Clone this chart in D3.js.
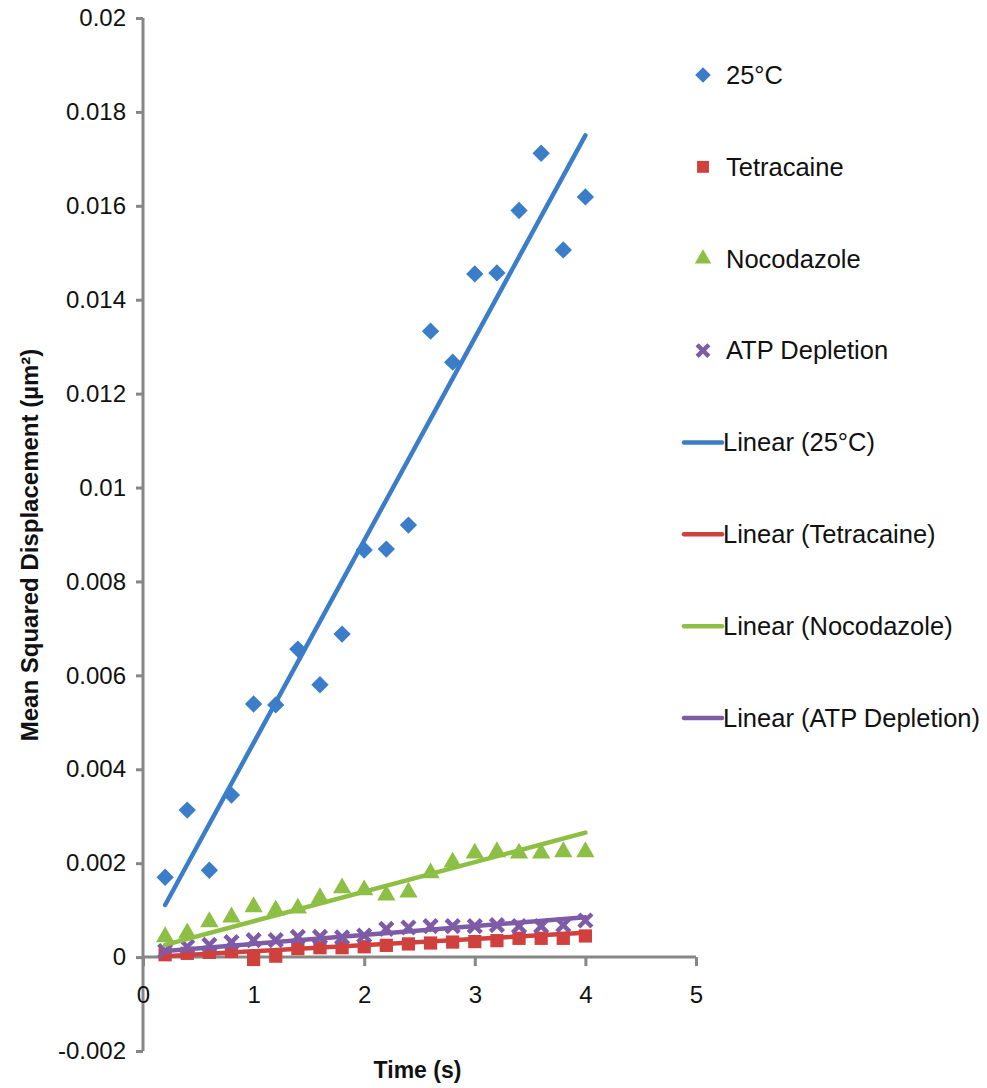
<!DOCTYPE html>
<html><head><meta charset="utf-8">
<script src="https://cdn.jsdelivr.net/npm/d3@7"></script>
<style>body{margin:0;background:#fff}</style>
</head><body><svg id="c" width="987" height="1088"></svg>
<script>
const times = [0.2,0.4,0.6,0.8,1.0,1.2,1.4,1.6,1.8,2.0,2.2,2.4,2.6,2.8,3.0,3.2,3.4,3.6,3.8,4.0];
const temp25 = [0.0017,0.00313,0.00185,0.00345,0.00539,0.00537,0.00656,0.0058,0.00688,0.00867,0.00869,0.0092,0.01333,0.01267,0.01455,0.01457,0.0159,0.01712,0.01506,0.01619];
const tetracaine = [0.00005,0.00008,0.0001,0.00012,-0.00005,0.00002,0.00018,0.0002,0.0002,0.00022,0.00025,0.00028,0.0003,0.00032,0.00033,0.00035,0.0004,0.0004,0.0004,0.00045];
const nocodazole = [0.00043,0.00051,0.00075,0.00085,0.00107,0.001,0.00104,0.00126,0.00147,0.00143,0.00132,0.00138,0.00179,0.00202,0.00221,0.00224,0.00221,0.00221,0.00224,0.00224];
const atpDepletion = [0.00013,0.00022,0.00026,0.00032,0.00036,0.00036,0.00043,0.00043,0.00042,0.00046,0.0006,0.00063,0.00066,0.00066,0.00066,0.00068,0.00066,0.00066,0.00068,0.00078];
// trendline values at t = 0.2 and t = 4.0
const trendStart = [0.00111,0.00002,0.00026,0.00013];
const trendEnd = [0.0175,0.00052,0.00265,0.00085];
const seriesNames = ["25°C","Tetracaine","Nocodazole","ATP Depletion"];
const seriesColors = ["#3b7dc8","#d0403d","#8dbf45","#7e5ba6"];
const seriesShapes = ["diamond","square","triangle","x"];
const xTicks = [0,1,2,3,4,5];
const xTickLabels = ["0","1","2","3","4","5"];
const yTicks = [-0.002,0,0.002,0.004,0.006,0.008,0.01,0.012,0.014,0.016,0.018,0.02];
const yTickLabels = ["-0.002","0","0.002","0.004","0.006","0.008","0.01","0.012","0.014","0.016","0.018","0.02"];
const xTitle = "Time (s)";
const yTitle = "Mean Squared Displacement (µm²)";

const series = [temp25,tetracaine,nocodazole,atpDepletion].map((v,i)=>({
  name: seriesNames[i], values: v, color: seriesColors[i], shape: seriesShapes[i],
  t0: trendStart[i], t1: trendEnd[i]
}));

const svg = d3.select("#c");
const font = "Liberation Sans, Arial, Helvetica, sans-serif";
const x = d3.scaleLinear().domain([0,5]).range([143,696]);
const y = d3.scaleLinear().domain([-0.002,0.02]).range([1051,18]);
const axisColor = "#878787";

// Y axis
const gy = svg.append("g").attr("transform",`translate(${x(0)},0)`)
  .call(d3.axisLeft(y).tickValues(yTicks).tickSize(7).tickPadding(10)
    .tickFormat((d,i)=>yTickLabels[i]));
gy.select(".domain").attr("stroke",axisColor).attr("stroke-width",3).attr("d",`M0,${y(-0.002)}V${y(0.02)}`);
gy.selectAll(".tick line").attr("stroke",axisColor).attr("stroke-width",3);
gy.selectAll(".tick text").attr("font-family",font).attr("font-size",24).attr("fill","#111");

// X axis at y=0
const gx = svg.append("g").attr("transform",`translate(0,${y(0)})`)
  .call(d3.axisBottom(x).tickValues(xTicks).tickSize(9).tickPadding(20)
    .tickFormat((d,i)=>xTickLabels[i]));
gx.select(".domain").attr("stroke",axisColor).attr("stroke-width",3).attr("d",`M${x(0)},0H${x(5)}`);
gx.selectAll(".tick line").attr("stroke",axisColor).attr("stroke-width",3);
gx.selectAll(".tick text").attr("font-family",font).attr("font-size",24).attr("fill","#111");

// Axis titles
svg.append("text").attr("x",(x(0)+x(5))/2 - 2).attr("y",1078).attr("text-anchor","middle")
  .attr("font-family",font).attr("font-size",23).attr("font-weight","bold").attr("fill","#111").text(xTitle);
svg.append("text").attr("transform",`translate(38,545) rotate(-90)`).attr("text-anchor","middle")
  .attr("font-family",font).attr("font-size",24).attr("font-weight","bold").attr("fill","#111").text(yTitle);

function drawMarker(g, shape, color, cx, cy, scale){
  scale = scale||1;
  if(shape==="diamond"){
    g.append("path").attr("d",d3.symbol(d3.symbolSquare, 150*scale*scale)())
      .attr("transform",`translate(${cx},${cy}) rotate(45)`).attr("fill",color);
  } else if(shape==="square"){
    g.append("path").attr("d",d3.symbol(d3.symbolSquare, 175*scale*scale)())
      .attr("transform",`translate(${cx},${cy})`).attr("fill",color);
  } else if(shape==="triangle"){
    g.append("path").attr("d",d3.symbol(d3.symbolTriangle, 145*scale*scale)())
      .attr("transform",`translate(${cx},${cy})`).attr("fill",color);
  } else {
    const s = 6.5*scale;
    g.append("path").attr("d",`M${-s},${-s}L${s},${s}M${-s},${s}L${s},${-s}`)
      .attr("transform",`translate(${cx},${cy})`).attr("stroke",color).attr("stroke-width",4.5).attr("fill","none");
  }
}

// markers
series.forEach(s=>{
  const g = svg.append("g");
  s.values.forEach((v,i)=>drawMarker(g, s.shape, s.color, x(times[i]), y(v)));
});

// linear trendlines
const line = d3.line().x(d=>x(d[0])).y(d=>y(d[1]));
const tMin = d3.min(times), tMax = d3.max(times);
series.forEach(s=>{
  svg.append("path").attr("d", line([[tMin,s.t0],[tMax,s.t1]]))
    .attr("stroke", s.color).attr("stroke-width",4.5).attr("stroke-linecap","round").attr("fill","none");
});

// legend
const legendY = d3.scaleLinear().domain([0,7]).range([75,718]);
const lg = svg.append("g");
const legendFont = 25.5;
series.forEach((s,i)=>{
  drawMarker(lg, s.shape, s.color, 703, legendY(i), 0.9);
  lg.append("text").attr("x",726).attr("y",legendY(i)).attr("dy","0.35em")
    .attr("font-family",font).attr("font-size",legendFont).attr("fill","#111").text(s.name);
});
series.forEach((s,i)=>{
  const ly = legendY(i+4);
  lg.append("line").attr("x1",684).attr("x2",722).attr("y1",ly).attr("y2",ly)
    .attr("stroke",s.color).attr("stroke-width",4.5).attr("stroke-linecap","round");
  lg.append("text").attr("x",723).attr("y",ly).attr("dy","0.35em")
    .attr("font-family",font).attr("font-size",legendFont).attr("fill","#111").text(`Linear (${s.name})`);
});
</script></body></html>
